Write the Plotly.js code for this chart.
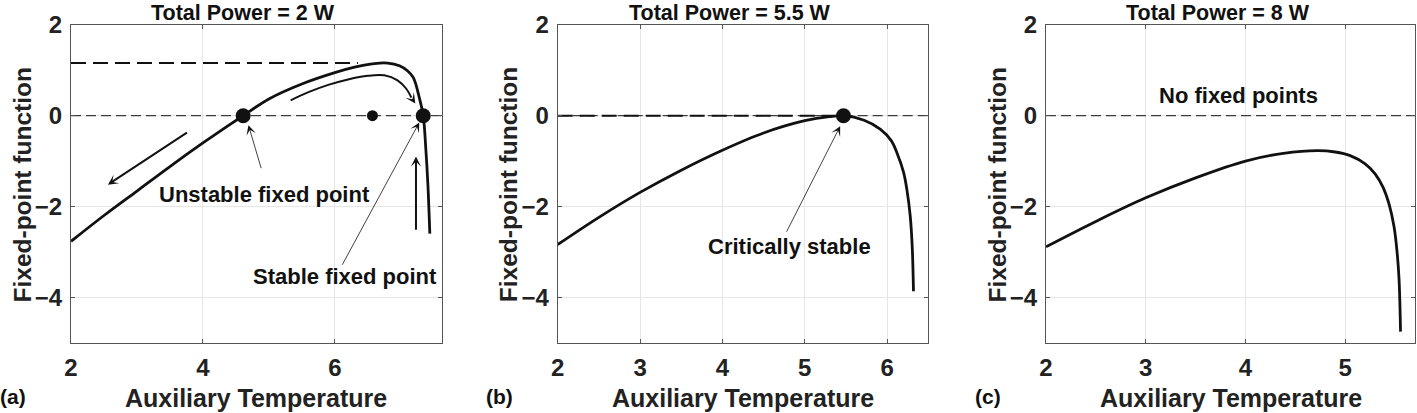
<!DOCTYPE html>
<html>
<head>
<meta charset="utf-8">
<script src="https://cdn.plot.ly/plotly-3.0.1.min.js"></script>
<style>
  html, body { margin: 0; padding: 0; background: #fff; }
  #chart { width: 1417px; height: 413px; }
</style>
</head>
<body>
<div id="chart"></div>
<script>
// Fixed-point function against auxiliary temperature for three total powers.

// (a) Total power = 2 W
const tempA = [2.0, 2.5, 3.0, 3.5, 4.0, 4.3, 4.61, 5.0, 5.5, 6.0, 6.3, 6.6, 6.8, 6.98, 7.1, 7.19, 7.28, 7.34, 7.38, 7.41, 7.44];
const fpA   = [-2.77, -2.2, -1.66, -1.12, -0.6, -0.3, 0, 0.37, 0.70, 0.95, 1.07, 1.15, 1.16, 1.10, 0.99, 0.84, 0.40, 0, -0.75, -1.5, -2.6];
const fixedA = [4.61, 7.34];          // unstable, stable
const peakMarkA = [6.57];
const levelA = 1.16;                  // maximum of the function
const levelEndA = 6.35;
// curved flow arrow above the right branch
const flowTempA = [5.33, 5.6, 5.9, 6.2, 6.5, 6.75, 6.95, 7.08, 7.16];
const flowFpA   = [0.34, 0.52, 0.68, 0.80, 0.88, 0.89, 0.78, 0.60, 0.40];

// (b) Total power = 5.5 W
const tempB = [2.0, 2.5, 3.0, 3.5, 4.0, 4.5, 5.0, 5.3, 5.47, 5.72, 5.92, 6.05, 6.12, 6.2, 6.24, 6.28, 6.305, 6.32];
const fpB   = [-2.84, -2.24, -1.69, -1.2, -0.76, -0.38, -0.11, -0.02, 0, -0.1, -0.30, -0.55, -0.82, -1.25, -1.63, -2.2, -2.9, -3.87];
const fixedB = [5.47];
const levelEndB = 5.35;

// (c) Total power = 8 W
const tempC = [2.0, 2.5, 3.0, 3.5, 4.0, 4.38, 4.72, 4.9, 5.05, 5.2, 5.3, 5.38, 5.44, 5.49, 5.52, 5.54, 5.555];
const fpC   = [-2.89, -2.33, -1.81, -1.37, -1.0, -0.83, -0.77, -0.80, -0.88, -1.06, -1.28, -1.58, -1.95, -2.45, -3.0, -3.6, -4.76];

const powers = ['2', '5.5', '8'];
const panelTags = ['(a)', '(b)', '(c)'];
const xRanges = [[2, 7.62], [2, 6.5], [2, 5.7]];
const xTicks = [[2, 4, 6], [2, 3, 4, 5, 6], [2, 3, 4, 5]];
const yTicks = [-4, -2, 0, 2];

const FONT = 'Liberation Sans, Arial, Helvetica, sans-serif';
const INK = '#111';

// plot boxes in pixels (left, right) and shared top/bottom
const W = 1417, H = 413;
const boxes = [[71, 441.7], [557.7, 928.3], [1046, 1415]];
const boxTop = 25, boxBottom = 342.5;

function axisBase() {
  return {
    showline: true, linecolor: '#555', linewidth: 1, mirror: 'ticks',
    ticks: 'inside', ticklen: 4, tickcolor: '#555',
    showgrid: true, gridcolor: '#e6e6e6', gridwidth: 1, zeroline: false,
    tickfont: { family: FONT, size: 24, color: '#222', weight: 'bold' },
    fixedrange: true
  };
}

const layout = {
  width: W, height: H,
  margin: { l: 0, r: 0, t: 0, b: 0 },
  paper_bgcolor: '#fff', plot_bgcolor: '#fff',
  showlegend: false,
  annotations: [],
  font: { family: FONT, color: INK }
};

const traces = [];

boxes.forEach((b, i) => {
  const n = i === 0 ? '' : String(i + 1);
  const xa = Object.assign(axisBase(), {
    domain: [b[0] / W, b[1] / W], range: xRanges[i],
    tickvals: xTicks[i], ticklabelstandoff: 4, anchor: 'y' + n
  });
  const ya = Object.assign(axisBase(), {
    domain: [1 - boxBottom / H, 1 - boxTop / H], range: [-5, 2],
    tickvals: yTicks, ticklabelstandoff: 3, anchor: 'x' + n
  });
  layout['xaxis' + n] = xa;
  layout['yaxis' + n] = ya;

  // thin dashed zero reference
  traces.push({
    x: xRanges[i], y: [0, 0], xaxis: 'x' + n, yaxis: 'y' + n,
    mode: 'lines', line: { color: INK, width: 1, dash: '10px,5px' }, hoverinfo: 'skip'
  });

  const cx = (b[0] + b[1]) / 2;
  // panel title
  layout.annotations.push({
    xref: 'paper', yref: 'paper', x: (cx - 13) / W, y: 1,
    xanchor: 'center', yanchor: 'top', showarrow: false, borderpad: 0,
    text: 'Total Power = ' + powers[i] + ' W',
    font: { family: FONT, size: 21.5, color: INK, weight: 'bold' }
  });
  // x title
  layout.annotations.push({
    xref: 'paper', yref: 'paper', x: cx / W, y: 1 - 398 / H,
    xanchor: 'center', yanchor: 'middle', showarrow: false,
    text: 'Auxiliary Temperature',
    font: { family: FONT, size: 25, color: '#222', weight: 'bold' }
  });
  // y title
  layout.annotations.push({
    xref: 'paper', yref: 'paper', x: (b[0] - 49.5) / W, y: 1 - 185 / H,
    xanchor: 'center', yanchor: 'middle', showarrow: false, textangle: -90,
    text: 'Fixed-point function',
    font: { family: FONT, size: 24.5, color: '#222', weight: 'bold' }
  });
  // panel tag
  layout.annotations.push({
    xref: 'paper', yref: 'paper', x: (b[0] - 58) / W, y: 1 - 396 / H,
    xanchor: 'center', yanchor: 'middle', showarrow: false,
    text: panelTags[i],
    font: { family: FONT, size: 21, color: INK, weight: 'bold' }
  });
});

const curveLine = { color: INK, width: 2.8, shape: 'spline', smoothing: 1 };
const levelLine = { color: INK, width: 2, dash: '15px,7px' };

// ---- panel (a)
traces.push({ x: [tempA[0], levelEndA], y: [levelA, levelA], xaxis: 'x', yaxis: 'y',
  mode: 'lines', line: levelLine, hoverinfo: 'skip' });
traces.push({ x: tempA, y: fpA, xaxis: 'x', yaxis: 'y', mode: 'lines', line: curveLine });
traces.push({ x: flowTempA, y: flowFpA, xaxis: 'x', yaxis: 'y', mode: 'lines',
  line: { color: INK, width: 2, shape: 'spline' }, hoverinfo: 'skip' });
traces.push({ x: fixedA, y: fixedA.map(() => 0), xaxis: 'x', yaxis: 'y', mode: 'markers',
  marker: { color: INK, size: 15 } });
traces.push({ x: peakMarkA, y: [0], xaxis: 'x', yaxis: 'y', mode: 'markers',
  marker: { color: INK, size: 11 } });

// ---- panel (b)
traces.push({ x: [tempB[0], levelEndB], y: [0, 0], xaxis: 'x2', yaxis: 'y2',
  mode: 'lines', line: levelLine, hoverinfo: 'skip' });
traces.push({ x: tempB, y: fpB, xaxis: 'x2', yaxis: 'y2', mode: 'lines', line: curveLine });
traces.push({ x: fixedB, y: [0], xaxis: 'x2', yaxis: 'y2', mode: 'markers',
  marker: { color: INK, size: 15 } });

// ---- panel (c)
traces.push({ x: tempC, y: fpC, xaxis: 'x3', yaxis: 'y3', mode: 'lines', line: curveLine });

// arrows and labels
function arrow(n, x0, y0, x1, y1, w, size) {
  return {
    xref: 'x' + n, yref: 'y' + n, axref: 'x' + n, ayref: 'y' + n,
    x: x1, y: y1, ax: x0, ay: y0, text: '', showarrow: true,
    arrowhead: 3, arrowwidth: w, arrowsize: size, arrowcolor: INK,
    standoff: 0, startstandoff: 0
  };
}
function label(n, x, y, t) {
  return {
    xref: 'x' + n, yref: 'y' + n, x: x, y: y, text: t, showarrow: false,
    xanchor: 'center', yanchor: 'middle',
    font: { family: FONT, size: 22, color: INK, weight: 'bold' }
  };
}
const lastFlow = flowTempA.length - 1;
layout.annotations.push(
  arrow('', 3.78, -0.35, 2.56, -1.52, 2, 0.85),
  arrow('', flowTempA[lastFlow], flowFpA[lastFlow], 7.22, 0.27, 2, 0.85),
  arrow('', 7.23, -2.55, 7.23, -0.9, 2, 0.85),
  arrow('', 4.89, -1.19, 4.69, -0.21, 0.8, 2.0),
  arrow('', 6.10, -3.32, 7.28, -0.15, 0.8, 2.0),
  label('', 4.94, -1.74, 'Unstable fixed point'),
  label('', 6.15, -3.55, 'Stable fixed point'),
  arrow('2', 4.77, -2.59, 5.43, -0.23, 0.8, 2.0),
  label('2', 4.82, -2.88, 'Critically stable'),
  label('3', 3.93, 0.45, 'No fixed points')
);

Plotly.newPlot('chart', traces, layout, { staticPlot: true, displayModeBar: false });
</script>
</body>
</html>
